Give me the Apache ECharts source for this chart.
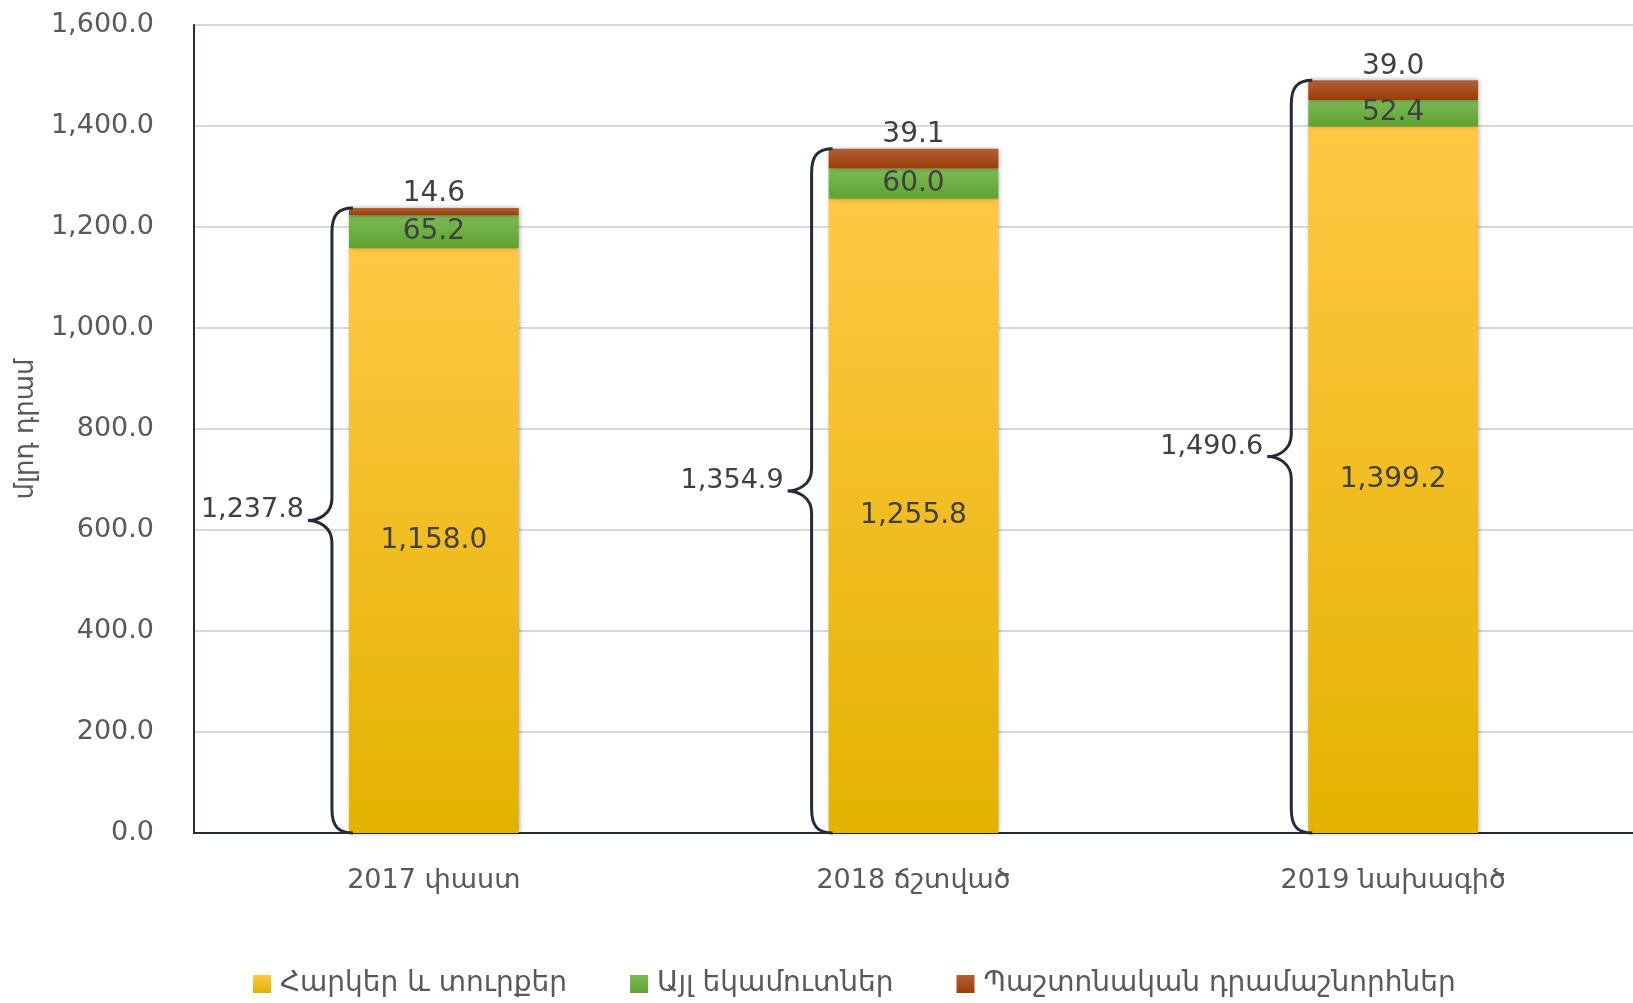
<!DOCTYPE html>
<html>
<head>
<meta charset="utf-8">
<script src="https://cdn.jsdelivr.net/npm/echarts@6/dist/echarts.min.js"></script>
<style>
  html, body { margin: 0; padding: 0; background: #fff; }
  #chart { width: 1633px; height: 1003px; }
</style>
</head>
<body>
<div id="chart"></div>
<script>
// categories and series values
const categories = ['2017 փաստ', '2018 ճշտված', '2019 նախագիծ']
const seriesNames = ['Հարկեր և տուրքեր', 'Այլ եկամուտներ', 'Պաշտոնական դրամաշնորհներ']
const taxes = [1158.0, 1255.8, 1399.2]
const otherIncome = [65.2, 60.0, 52.4]
const grants = [14.6, 39.1, 39.0]
const totals = [1237.8, 1354.9, 1490.6]
const yTicks = [0, 200, 400, 600, 800, 1000, 1200, 1400, 1600]

const FONT = "'DejaVu Sans', sans-serif"
const TEXT = '#595959'
const LABEL = '#404040'
const AXIS = '#232d39'
const BAR_RATIO = 0.354

const fmt = v => Number(v).toLocaleString('en-US', {minimumFractionDigits: 1, maximumFractionDigits: 1})

const grad = (top, bottom) => new echarts.graphic.LinearGradient(0, 0, 0, 1, [
  {offset: 0, color: top},
  {offset: 1, color: bottom}
])

const barShadow = {
  shadowBlur: 5,
  shadowColor: 'rgba(0,0,0,0.35)',
  shadowOffsetX: 1
}

const chart = echarts.init(document.getElementById('chart'))

/**
 * 画左侧花括号和合计数
 */
const renderBrace = (params, api) => {
  const idx = api.value(0)
  const total = api.value(1)
  const top = api.coord([idx, total])
  const bottom = api.coord([idx, 0])
  const band = api.size([1, 0])[0]
  const x = top[0] - band * BAR_RATIO / 2
  const yT = top[1]
  const yB = bottom[1]
  const yM = (yT + yB) / 2
  const lx = x - 17
  const tip = x - 41
  const path = [
    'M', x + 4, yT,
    'C', x - 10, yT, lx, yT + 6, lx, yT + 24,
    'L', lx, yM - 22,
    'C', lx, yM - 6, tip + 10, yM, tip, yM,
    'C', tip + 10, yM, lx, yM + 6, lx, yM + 22,
    'L', lx, yB - 24,
    'C', lx, yB - 6, x - 10, yB, x + 4, yB
  ].join(' ')
  return {
    type: 'group',
    children: [
      {
        type: 'path',
        shape: {pathData: path},
        style: {fill: 'none', stroke: AXIS, lineWidth: 3}
      },
      {
        type: 'text',
        x: tip - 4,
        y: yM - 10,
        style: {
          text: fmt(total),
          align: 'right',
          verticalAlign: 'middle',
          fill: LABEL,
          font: '27px ' + FONT
        }
      }
    ]
  }
}

chart.setOption({
  animation: false,
  backgroundColor: '#fff',
  textStyle: {fontFamily: FONT},
  grid: {left: 194, right: 0, top: 25, bottom: 170, outerBoundsMode: 'none', containLabel: false},
  legend: {
    data: seriesNames,
    left: 248,
    top: 965,
    itemWidth: 18,
    itemHeight: 18,
    itemGap: 63,
    icon: 'rect',
    textStyle: {fontSize: 28, color: TEXT, fontFamily: FONT, padding: [0, 0, 0, 4]}
  },
  xAxis: {
    type: 'category',
    data: categories,
    axisLine: {lineStyle: {color: AXIS, width: 2}},
    axisTick: {show: false},
    axisLabel: {fontSize: 27, color: TEXT, margin: 34}
  },
  yAxis: {
    type: 'value',
    min: yTicks[0],
    max: yTicks[yTicks.length - 1],
    interval: 200,
    name: 'մլրդ դրամ',
    nameLocation: 'middle',
    nameGap: 155,
    nameRotate: 90,
    nameTextStyle: {fontSize: 26, color: TEXT},
    axisLine: {show: true, lineStyle: {color: AXIS, width: 2}},
    axisTick: {show: false},
    axisLabel: {fontSize: 27, color: TEXT, margin: 40, formatter: v => fmt(v)},
    splitLine: {lineStyle: {color: '#d9d9d9', width: 2}}
  },
  series: [
    {
      name: seriesNames[0],
      type: 'bar',
      stack: 'total',
      barWidth: (BAR_RATIO * 100) + '%',
      data: taxes,
      itemStyle: Object.assign({color: grad('#ffc844', '#e3b300')}, barShadow),
      label: {show: true, position: 'inside', formatter: p => fmt(p.value), fontSize: 28, color: LABEL}
    },
    {
      name: seriesNames[1],
      type: 'bar',
      stack: 'total',
      data: otherIncome,
      itemStyle: Object.assign({color: grad('#7dba55', '#5ea331')}, barShadow),
      label: {show: true, position: 'inside', formatter: p => fmt(p.value), fontSize: 28, color: LABEL}
    },
    {
      name: seriesNames[2],
      type: 'bar',
      stack: 'total',
      data: grants,
      itemStyle: Object.assign({color: grad('#b0603a', '#9c3c00')}, barShadow),
      label: {show: true, position: 'top', distance: 0, formatter: p => fmt(p.value), fontSize: 28, color: LABEL}
    },
    {
      name: 'brace',
      type: 'custom',
      z: 5,
      data: totals.map((t, i) => [i, t]),
      renderItem: renderBrace
    }
  ]
})
</script>
</body>
</html>
